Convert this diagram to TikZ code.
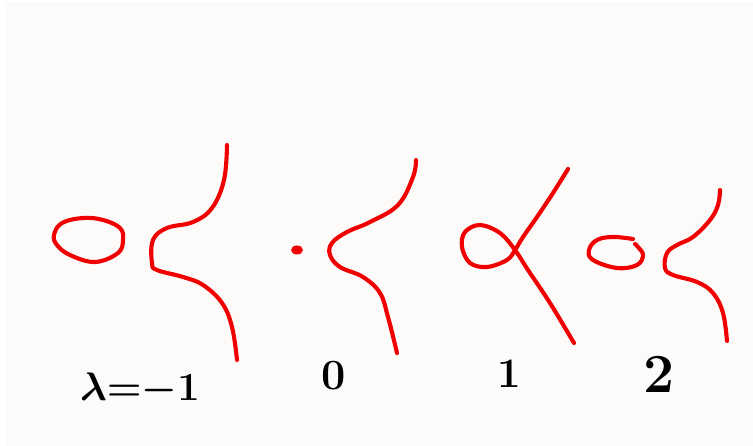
\documentclass[tikz,border=0pt]{standalone}
\usepackage{fontspec}
\definecolor{penred}{RGB}{240,0,0}
\definecolor{paper}{RGB}{252,251,249}
\begin{document}
\begin{tikzpicture}[x=1pt,y=-1pt,
  pen/.style={draw=penred,line width=4.1pt,line cap=round,line join=round},
  lbl/.style={inner sep=0pt,anchor=base,text=black,font=\bfseries\boldmath}]
\useasboundingbox (0,0) rectangle (753,446);
\fill[white] (0,0) rectangle (753,446);
\fill[paper] (5,2) rectangle (753,446);

% lambda = -1
\draw[pen] plot[smooth cycle,tension=0.65] coordinates {
  (54,235) (62,223) (83,218) (103,220) (120,228) (123,240)
  (118,253) (95,262) (70,255) (57,245)};
\draw[pen] plot[smooth,tension=0.65] coordinates {
  (227,145) (224,180) (212,208) (193,222) (167,228) (153,240)
  (152,263) (157,270) (183,277) (203,285) (222,303) (232,327) (237,360)};

% lambda = 0
\fill[penred] (297,250) ellipse [x radius=6, y radius=4.5];
\draw[pen] plot[smooth,tension=0.65] coordinates {
  (416,160) (413,177) (398,205) (370,222) (347,232) (332,243)
  (330,255) (340,267) (363,277) (380,293) (388,317) (397,353)};

% lambda = 1
\draw[pen] plot[smooth,tension=0.6] coordinates {
  (568,169) (553,193) (537,217) (523,237) (515,250) (507,260)
  (487,267) (470,263) (462,247) (465,232) (480,225) (500,233)
  (515,250) (528,270) (550,303) (574,343)};

% lambda = 2
\draw[pen] plot[smooth,tension=0.65] coordinates {
  (633,239) (613,237) (597,240) (589,250) (593,260) (617,268)
  (637,265) (643,255) (638,247) (635,244)};
\draw[pen] plot[smooth,tension=0.65] coordinates {
  (720,190) (718,205) (710,220) (693,237) (677,245) (667,253)
  (665,268) (673,275) (697,282) (713,293) (723,313) (727,341)};

% labels
\node[lbl] (lm1) at (140,401) {\scalebox{1.6}{\fontsize{25}{30}\selectfont$\lambda{=}{-}1$}};
\node[lbl] (l0) at (334,390) {\scalebox{1.8}{\fontsize{24}{28}\selectfont 0}};
\node[lbl] (l1) at (509,388) {\scalebox{1.75}{\fontsize{24}{28}\selectfont 1}};
\node[lbl] (l2) at (659,393) {\scalebox{2.3}{\fontsize{24}{28}\selectfont 2}};
\end{tikzpicture}
\end{document}
